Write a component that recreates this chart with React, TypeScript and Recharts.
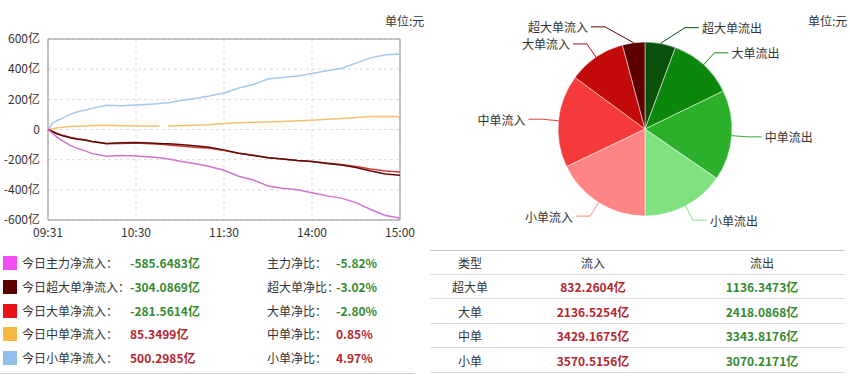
import React from 'react'
import {
  LineChart, Line, XAxis, YAxis, CartesianGrid, ReferenceArea,
  PieChart, Pie, Cell,
} from 'recharts'

const FONT = '"Noto Sans CJK SC", "Microsoft YaHei", sans-serif'
const RED_TXT = '#b3262e'
const GREEN_TXT = '#338a33'

// minutes since 09:31 (trading time, lunch break removed)
const minutes = [0, 3, 6, 10, 15, 20, 25, 30, 40, 50, 60, 70, 76, 79, 82, 90, 100, 110, 120, 130, 140, 150, 160, 170, 180, 190, 200, 210, 220, 230, 240]
const mainFlow = [0, -25, -50, -75, -105, -125, -140, -160, -178, -172, -175, -182, -188, -191, -195, -210, -225, -245, -270, -310, -335, -375, -390, -400, -420, -440, -455, -485, -530, -570, -586]
const superFlow = [0, -15, -28, -42, -55, -65, -70, -80, -92, -88, -86, -90, -92, -94, -95, -100, -108, -118, -135, -158, -172, -188, -195, -205, -212, -225, -235, -252, -275, -295, -304]
const largeFlow = [0, -12, -25, -38, -52, -62, -68, -80, -95, -92, -90, -95, -98, -100, -102, -110, -118, -125, -140, -158, -170, -188, -195, -205, -212, -222, -232, -245, -262, -275, -282]
const mediumFlow = [0, 5, 10, 15, 20, 22, 24, 27, 28, 25, 24, 24, 24, null, 24, 25, 28, 32, 40, 45, 48, 50, 53, 58, 62, 68, 73, 80, 86, 88, 85]
const smallFlow = [0, 40, 58, 75, 100, 118, 128, 140, 160, 158, 162, 168, 172, 175, 178, 190, 205, 222, 242, 275, 298, 335, 345, 355, 372, 390, 405, 440, 475, 495, 500]

const timeTicks = [0, 60, 120, 180, 240]
const timeLabels = ['09:31', '10:30', '11:30', '14:00', '15:00']
const yTicks = [-600, -400, -200, 0, 200, 400, 600]

const legendNames = ['今日主力净流入：', '今日超大单净流入：', '今日大单净流入：', '今日中单净流入：', '今日小单净流入：']
const legendValues = [-585.6483, -304.0869, -281.5614, 85.3499, 500.2985]
const ratioNames = ['主力净比：', '超大单净比：', '大单净比：', '中单净比：', '小单净比：']
const ratioValues = [-5.82, -3.02, -2.80, 0.85, 4.97]
const legendColors = ['#f24cf2', '#5c0000', '#e8141a', '#f7b944', '#90c0ea']

const orderTypes = ['超大单', '大单', '中单', '小单']
const inflow = [832.2604, 2136.5254, 3429.1675, 3570.5156]
const outflow = [1136.3473, 2418.0868, 3343.8176, 3070.2171]
const outColors = ['#0a4f0a', '#0b880b', '#2cb02c', '#7fe27f']
const inColors = ['#5c0000', '#c20a0a', '#f43a3a', '#ff8585']

const lineData = minutes.map((m, i) => ({
  m,
  main: mainFlow[i],
  super: superFlow[i],
  large: largeFlow[i],
  medium: mediumFlow[i],
  small: smallFlow[i],
}))

// clockwise from 12 o'clock: outflows super->small, then inflows small->super
const pieData = [
  ...orderTypes.map((t, i) => ({ name: `${t}流出`, value: outflow[i], color: outColors[i] })),
  ...orderTypes.map((t, i) => ({ name: `${t}流入`, value: inflow[i], color: inColors[i] })).reverse(),
]

const renderPieLabel = (props: any) => {
  const { cx, cy, midAngle, outerRadius, name, index } = props
  const color = pieData[index].color
  const theta = ((90 - midAngle) * Math.PI) / 180
  const s = Math.sin(theta)
  const c = Math.cos(theta)
  const sign = s >= 0 ? 1 : -1
  const sx = cx + outerRadius * s
  const sy = cy - outerRadius * c
  const r1 = outerRadius + 16
  let ex = cx + r1 * s
  const ey = cy - r1 * c
  if (Math.abs(ex - cx) < 40) ex = cx + sign * 40
  const tx = ex + sign * 14
  return (
    <g>
      <polyline points={`${sx},${sy} ${ex},${ey} ${tx},${ey}`} fill="none" stroke={color} strokeWidth={1} />
      <text x={tx + sign * 3} y={ey} textAnchor={sign > 0 ? 'start' : 'end'} dominantBaseline="central"
        fontSize={12} fill="#333" fontFamily={FONT}>
        {name}
      </text>
    </g>
  )
}

const fmtYi = (v: number) => `${v.toFixed(4)}亿`

export default function App() {
  return (
    <div style={{ position: 'absolute', left: 0, top: 0, width: 850, height: 378, background: '#fff', fontFamily: FONT, fontSize: 12, color: '#333' }}>
      <div style={{ position: 'absolute', left: 385, top: 12 }}>单位:元</div>
      <div style={{ position: 'absolute', left: 808, top: 12 }}>单位:元</div>

      <div style={{ position: 'absolute', left: 0, top: 0 }}>
        <LineChart width={420} height={245} data={lineData} margin={{ top: 39, right: 20, bottom: 5, left: 0 }}>
          <CartesianGrid stroke="#dcdcdc" strokeDasharray="3 3" />
          <XAxis dataKey="m" type="number" domain={[0, 240]} ticks={timeTicks} height={20}
            tickFormatter={(v: number) => timeLabels[timeTicks.indexOf(v)]}
            tickLine={false} axisLine={false} tick={{ fontSize: 12, fill: '#333', fontFamily: FONT }} interval={0} />
          <YAxis type="number" domain={[-600, 600]} ticks={yTicks} width={48}
            tickFormatter={(v: number) => (v === 0 ? '0' : `${v}亿`)}
            tickLine={false} axisLine={false} tick={{ fontSize: 12, fill: '#333', fontFamily: FONT }} interval={0} />
          <ReferenceArea x1={0} x2={240} y1={-600} y2={600} fill="none" stroke="#8f8f8f" />
          <Line dataKey="small" stroke="#a6c8e8" strokeWidth={1.5} dot={false} isAnimationActive={false} />
          <Line dataKey="medium" stroke="#f4c070" strokeWidth={1.5} dot={false} isAnimationActive={false} />
          <Line dataKey="large" stroke="#cf3a3a" strokeWidth={1.5} dot={false} isAnimationActive={false} />
          <Line dataKey="super" stroke="#5e0c0c" strokeWidth={1.5} dot={false} isAnimationActive={false} />
          <Line dataKey="main" stroke="#d273d2" strokeWidth={1.5} dot={false} isAnimationActive={false} />
        </LineChart>
      </div>

      {legendNames.map((n, i) => {
        const top = 263 + i * 23.8
        const v = legendValues[i]
        const r = ratioValues[i]
        return (
          <React.Fragment key={n}>
            <div style={{ position: 'absolute', left: 3, top: top - 7, width: 14, height: 14, background: legendColors[i] }} />
            <div style={{ position: 'absolute', left: 22, top: top - 9, lineHeight: '18px' }}>{n}</div>
            <div style={{ position: 'absolute', left: 130, top: top - 9, lineHeight: '18px', fontWeight: 'bold', color: v < 0 ? GREEN_TXT : RED_TXT }}>{fmtYi(v)}</div>
            <div style={{ position: 'absolute', left: 267, top: top - 9, lineHeight: '18px' }}>{ratioNames[i]}</div>
            <div style={{ position: 'absolute', left: 336, top: top - 9, lineHeight: '18px', fontWeight: 'bold', color: r < 0 ? GREEN_TXT : RED_TXT }}>{`${r.toFixed(2)}%`}</div>
          </React.Fragment>
        )
      })}
      <div style={{ position: 'absolute', left: 0, top: 373, width: 415, height: 1, background: '#d0d0d0' }} />

      <div style={{ position: 'absolute', left: 420, top: 0 }}>
        <PieChart width={430} height={240}>
          <Pie data={pieData} dataKey="value" nameKey="name" cx={220} cy={124} outerRadius={87}
            startAngle={90} endAngle={-270} stroke="#fff" strokeWidth={0.5}
            label={renderPieLabel} labelLine={false} isAnimationActive={false}>
            {pieData.map((d) => (
              <Cell key={d.name} fill={d.color} />
            ))}
          </Pie>
        </PieChart>
      </div>

      <div style={{ position: 'absolute', left: 430, top: 250, width: 415, height: 1, background: '#c8c8c8' }} />
      {['类型', '流入', '流出'].map((h, j) => (
        <div key={h} style={{ position: 'absolute', left: [470, 593, 762][j] - 60, width: 120, textAlign: 'center', top: 254, lineHeight: '18px' }}>{h}</div>
      ))}
      <div style={{ position: 'absolute', left: 430, top: 274, width: 415, height: 1, background: '#dcdcdc' }} />
      {orderTypes.map((t, i) => {
        const top = 287 + i * 24.7
        return (
          <React.Fragment key={t}>
            <div style={{ position: 'absolute', left: 410, width: 120, textAlign: 'center', top: top - 9, lineHeight: '18px' }}>{t}</div>
            <div style={{ position: 'absolute', left: 533, width: 120, textAlign: 'center', top: top - 9, lineHeight: '18px', fontWeight: 'bold', color: RED_TXT }}>{fmtYi(inflow[i])}</div>
            <div style={{ position: 'absolute', left: 702, width: 120, textAlign: 'center', top: top - 9, lineHeight: '18px', fontWeight: 'bold', color: GREEN_TXT }}>{fmtYi(outflow[i])}</div>
            <div style={{ position: 'absolute', left: 430, top: top + 11, width: 415, height: 1, background: '#dcdcdc' }} />
          </React.Fragment>
        )
      })}
    </div>
  )
}
